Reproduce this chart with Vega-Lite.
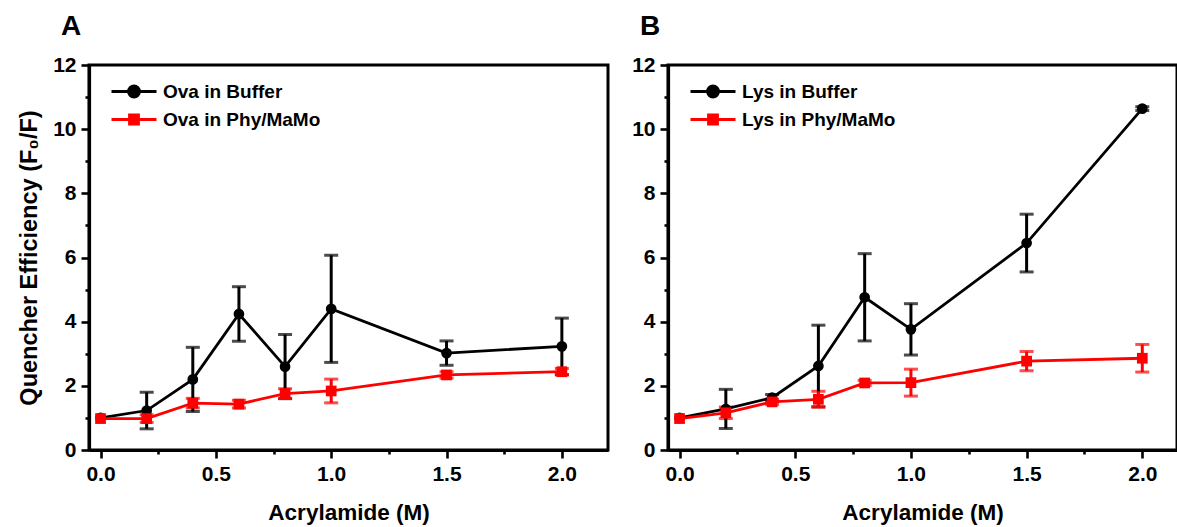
{
  "$schema": "https://vega.github.io/schema/vega-lite/v6.json",
  "padding": {"left": 16, "top": 11, "right": 0, "bottom": 0},
  "background": "white",
  "spacing": 20,
  "datasets": {
    "pts": [
      {"panel": "A", "series": "Ova in Buffer", "x": 0.0, "y": 1.0, "err": 0},
      {"panel": "A", "series": "Ova in Buffer", "x": 0.2, "y": 1.23, "err": 0.57},
      {"panel": "A", "series": "Ova in Buffer", "x": 0.4, "y": 2.2, "err": 1.0},
      {"panel": "A", "series": "Ova in Buffer", "x": 0.6, "y": 4.24, "err": 0.85},
      {"panel": "A", "series": "Ova in Buffer", "x": 0.8, "y": 2.6, "err": 1.0},
      {"panel": "A", "series": "Ova in Buffer", "x": 1.0, "y": 4.4, "err": 1.67},
      {"panel": "A", "series": "Ova in Buffer", "x": 1.5, "y": 3.02, "err": 0.38},
      {"panel": "A", "series": "Ova in Buffer", "x": 2.0, "y": 3.23, "err": 0.88},
      {"panel": "A", "series": "Ova in Phy/MaMo", "x": 0.0, "y": 0.98, "err": 0},
      {"panel": "A", "series": "Ova in Phy/MaMo", "x": 0.2, "y": 0.98, "err": 0.12},
      {"panel": "A", "series": "Ova in Phy/MaMo", "x": 0.4, "y": 1.46, "err": 0.15},
      {"panel": "A", "series": "Ova in Phy/MaMo", "x": 0.6, "y": 1.43, "err": 0.12},
      {"panel": "A", "series": "Ova in Phy/MaMo", "x": 0.8, "y": 1.76, "err": 0.15},
      {"panel": "A", "series": "Ova in Phy/MaMo", "x": 1.0, "y": 1.84, "err": 0.37},
      {"panel": "A", "series": "Ova in Phy/MaMo", "x": 1.5, "y": 2.34, "err": 0.1},
      {"panel": "A", "series": "Ova in Phy/MaMo", "x": 2.0, "y": 2.44, "err": 0.1},
      {"panel": "B", "series": "Lys in Buffer", "x": 0.0, "y": 1.0, "err": 0},
      {"panel": "B", "series": "Lys in Buffer", "x": 0.2, "y": 1.28, "err": 0.61},
      {"panel": "B", "series": "Lys in Buffer", "x": 0.4, "y": 1.63, "err": 0.1},
      {"panel": "B", "series": "Lys in Buffer", "x": 0.6, "y": 2.62, "err": 1.27},
      {"panel": "B", "series": "Lys in Buffer", "x": 0.8, "y": 4.76, "err": 1.36},
      {"panel": "B", "series": "Lys in Buffer", "x": 1.0, "y": 3.76, "err": 0.8},
      {"panel": "B", "series": "Lys in Buffer", "x": 1.5, "y": 6.45, "err": 0.9},
      {"panel": "B", "series": "Lys in Buffer", "x": 2.0, "y": 10.64, "err": 0.06},
      {"panel": "B", "series": "Lys in Phy/MaMo", "x": 0.0, "y": 0.98, "err": 0},
      {"panel": "B", "series": "Lys in Phy/MaMo", "x": 0.2, "y": 1.16, "err": 0.18},
      {"panel": "B", "series": "Lys in Phy/MaMo", "x": 0.4, "y": 1.5, "err": 0.08},
      {"panel": "B", "series": "Lys in Phy/MaMo", "x": 0.6, "y": 1.58, "err": 0.25},
      {"panel": "B", "series": "Lys in Phy/MaMo", "x": 0.8, "y": 2.09, "err": 0.08},
      {"panel": "B", "series": "Lys in Phy/MaMo", "x": 1.0, "y": 2.1, "err": 0.42},
      {"panel": "B", "series": "Lys in Phy/MaMo", "x": 1.5, "y": 2.77, "err": 0.3},
      {"panel": "B", "series": "Lys in Phy/MaMo", "x": 2.0, "y": 2.86, "err": 0.43}
    ]
  },
  "hconcat": [
    {
      "width": 519,
      "height": 385,
      "title": {"text": "A", "anchor": "start", "frame": "group", "dx": -28, "offset": 13},
      "data": {"name": "pts"},
      "transform": [{"filter": "datum.panel === 'A'"}],
      "encoding": {
        "x": {"field": "x", "type": "quantitative", "scale": {"domain": [-0.05, 2.2], "nice": false, "zero": false},
          "axis": {"title": "Acrylamide (M)", "values": [0, 0.25, 0.5, 0.75, 1, 1.25, 1.5, 1.75, 2],
            "labelExpr": "datum.value % 0.5 === 0 ? format(datum.value, '.1f') : ''",
            "tickSize": {"condition": {"test": "datum.value % 0.5 === 0", "value": 8}, "value": 4}}},
        "y": {"field": "y", "type": "quantitative", "scale": {"domain": [0, 12], "nice": false},
          "axis": {"title": "Quencher Efficiency (F₀/F)", "titleFontSize": 23.5, "values": [0, 1, 2, 3, 4, 5, 6, 7, 8, 9, 10, 11, 12],
            "labelExpr": "datum.value % 2 === 0 ? datum.label : ''",
            "tickSize": {"condition": {"test": "datum.value % 2 === 0", "value": 8}, "value": 4}}},
        "color": {"field": "series", "type": "nominal",
          "scale": {"domain": ["Ova in Buffer", "Ova in Phy/MaMo"], "range": ["#000000", "#ff0000"]},
          "legend": {
            "orient": "none", "legendX": 33.5, "legendY": 15, "title": null, "padding": 0,
            "symbolSize": 400, "labelOffset": 17.5, "rowPadding": 5,
            "labelFont": "Liberation Sans", "labelFontSize": 19, "labelFontWeight": "bold", "labelColor": "#000000",
            "encode": {"symbols": {"update": {
              "shape": {"signal": "indexof(datum.value, 'Buffer') >= 0 ? 'M-2.25,0 L2.25,0 M-0.55,0 A0.55,0.55 0 1,1 0.55,0 A0.55,0.55 0 1,1 -0.55,0 Z' : 'M-2.25,0 L2.25,0 M-0.45,-0.45 L0.45,-0.45 L0.45,0.45 L-0.45,0.45 Z'"},
              "stroke": {"signal": "indexof(datum.value, 'Buffer') >= 0 ? '#000000' : '#ff0000'"},
              "fill": {"signal": "indexof(datum.value, 'Buffer') >= 0 ? '#000000' : '#ff0000'"},
              "strokeWidth": {"value": 2.8}, "opacity": {"value": 1}, "fillOpacity": {"value": 1}, "strokeOpacity": {"value": 1}
            }}}
          }}
      },
      "layer": [
        {
          "transform": [{"filter": "datum.err > 0"}],
          "mark": {"type": "errorbar", "thickness": 3, "ticks": {"size": 14, "thickness": 3}},
          "encoding": {"yError": {"field": "err"}}
        },
        {
          "mark": {"type": "line", "strokeWidth": 2.8}
        },
        {
          "mark": {"type": "point", "filled": true, "size": 115, "opacity": 1},
          "encoding": {
            "shape": {"field": "series", "type": "nominal", "scale": {"range": ["circle", "square"]}, "legend": null}
          }
        }
      ]
    },
    {
      "width": 509,
      "height": 385,
      "title": {"text": "B", "anchor": "start", "frame": "group", "dx": -28, "offset": 13},
      "data": {"name": "pts"},
      "transform": [{"filter": "datum.panel === 'B'"}],
      "encoding": {
        "x": {"field": "x", "type": "quantitative", "scale": {"domain": [-0.05, 2.15], "nice": false, "zero": false},
          "axis": {"title": "Acrylamide (M)", "values": [0, 0.25, 0.5, 0.75, 1, 1.25, 1.5, 1.75, 2],
            "labelExpr": "datum.value % 0.5 === 0 ? format(datum.value, '.1f') : ''",
            "tickSize": {"condition": {"test": "datum.value % 0.5 === 0", "value": 8}, "value": 4}}},
        "y": {"field": "y", "type": "quantitative", "scale": {"domain": [0, 12], "nice": false},
          "axis": {"title": null, "values": [0, 1, 2, 3, 4, 5, 6, 7, 8, 9, 10, 11, 12],
            "labelExpr": "datum.value % 2 === 0 ? datum.label : ''",
            "tickSize": {"condition": {"test": "datum.value % 2 === 0", "value": 8}, "value": 4}}},
        "color": {"field": "series", "type": "nominal",
          "scale": {"domain": ["Lys in Buffer", "Lys in Phy/MaMo"], "range": ["#000000", "#ff0000"]},
          "legend": {
            "orient": "none", "legendX": 33.5, "legendY": 15, "title": null, "padding": 0,
            "symbolSize": 400, "labelOffset": 17.5, "rowPadding": 5,
            "labelFont": "Liberation Sans", "labelFontSize": 19, "labelFontWeight": "bold", "labelColor": "#000000",
            "encode": {"symbols": {"update": {
              "shape": {"signal": "indexof(datum.value, 'Buffer') >= 0 ? 'M-2.25,0 L2.25,0 M-0.55,0 A0.55,0.55 0 1,1 0.55,0 A0.55,0.55 0 1,1 -0.55,0 Z' : 'M-2.25,0 L2.25,0 M-0.45,-0.45 L0.45,-0.45 L0.45,0.45 L-0.45,0.45 Z'"},
              "stroke": {"signal": "indexof(datum.value, 'Buffer') >= 0 ? '#000000' : '#ff0000'"},
              "fill": {"signal": "indexof(datum.value, 'Buffer') >= 0 ? '#000000' : '#ff0000'"},
              "strokeWidth": {"value": 2.8}, "opacity": {"value": 1}, "fillOpacity": {"value": 1}, "strokeOpacity": {"value": 1}
            }}}
          }}
      },
      "layer": [
        {
          "transform": [{"filter": "datum.err > 0"}],
          "mark": {"type": "errorbar", "thickness": 3, "ticks": {"size": 14, "thickness": 3}},
          "encoding": {"yError": {"field": "err"}}
        },
        {
          "mark": {"type": "line", "strokeWidth": 2.8}
        },
        {
          "mark": {"type": "point", "filled": true, "size": 115, "opacity": 1},
          "encoding": {
            "shape": {"field": "series", "type": "nominal", "scale": {"range": ["circle", "square"]}, "legend": null}
          }
        }
      ]
    }
  ],
  "resolve": {"scale": {"color": "independent", "shape": "independent", "x": "independent", "y": "independent"}, "legend": {"color": "independent"}},
  "config": {
    "view": {"stroke": "#000000", "strokeWidth": 3},
    "title": {"font": "Liberation Sans", "fontSize": 28, "fontWeight": "bold", "color": "#000000", "baseline": "bottom"},
    "axis": {
      "grid": false,
      "domainColor": "#000000", "domainWidth": 3.2,
      "tickColor": "#000000", "tickWidth": 2.6,
      "labelFont": "Liberation Sans", "labelFontSize": 21, "labelFontWeight": "bold", "labelColor": "#000000", "labelPadding": 5,
      "titleFont": "Liberation Sans", "titleFontSize": 22.5, "titleFontWeight": "bold", "titleColor": "#000000"
    },
    "axisX": {"titlePadding": 17, "labelFlush": false},
    "axisY": {"titlePadding": 11}
  }
}
